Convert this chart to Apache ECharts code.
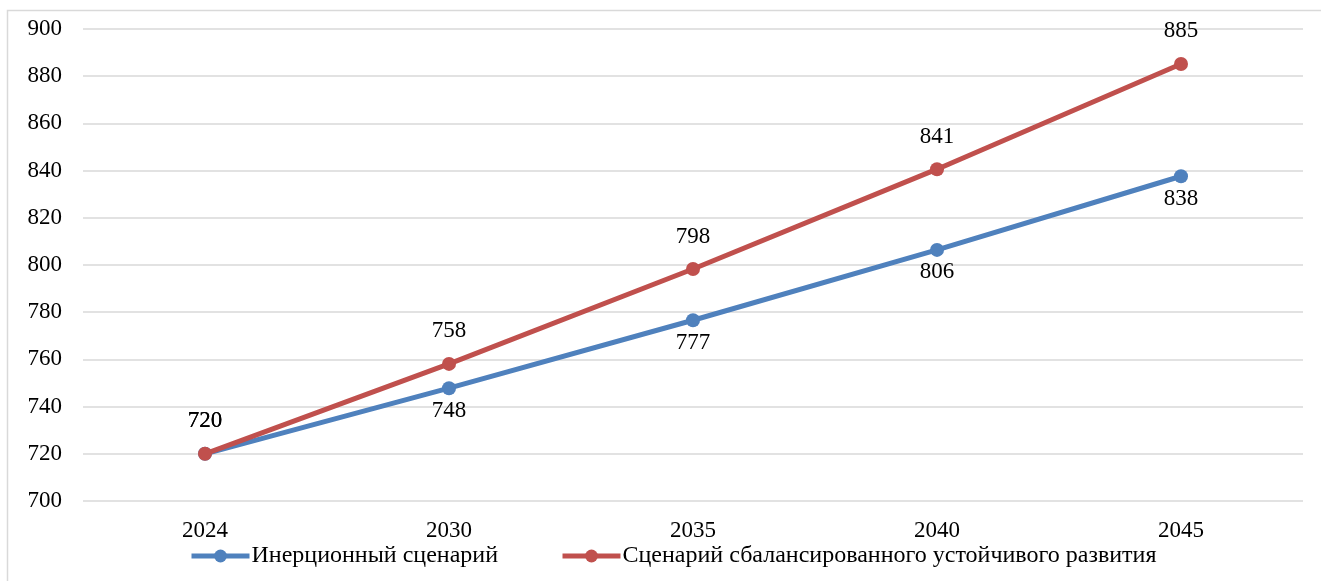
<!DOCTYPE html>
<html>
<head>
<meta charset="utf-8">
<script src="https://cdn.jsdelivr.net/npm/echarts@6/dist/echarts.min.js"></script>
<style>
html,body{margin:0;padding:0;background:#fff;}
#c{width:1321px;height:581px;}
</style>
</head>
<body>
<div id="c"></div>
<script>
const categories = ['2024', '2030', '2035', '2040', '2045'];
const inertialValues = [720, 747.8, 776.6, 806.4, 837.6];
const balancedValues = [720, 758.1, 798.3, 840.6, 885.2];
const seriesNames = ['Инерционный сценарий', 'Сценарий сбалансированного устойчивого развития'];
const yMin = 700, yMax = 900, yStep = 20;

const FONT = '"Liberation Serif", "Times New Roman", serif';
const chart = echarts.init(document.getElementById('c'));
const labelStyle = {
  show: true,
  fontFamily: FONT,
  fontSize: 23,
  color: '#000',
  formatter: p => Math.round(p.value)
};
chart.setOption({
  animation: false,
  graphic: [{
    type: 'rect',
    shape: { x: 7.5, y: 10.5, width: 1330, height: 600 },
    style: { fill: 'none', stroke: '#d9d9d9', lineWidth: 1.5 },
    silent: true
  }],
  grid: { left: 83, right: 18, top: 29, bottom: 80 },
  legend: {
    left: 184,
    top: 539,
    itemWidth: 58,
    itemHeight: 16,
    itemGap: 62,
    lineStyle: { width: 5 },
    textStyle: { fontFamily: FONT, fontSize: 24, color: '#000', padding: [0, 0, 0, -3] },
    data: seriesNames
  },
  xAxis: {
    type: 'category',
    data: categories,
    boundaryGap: true,
    axisLine: { show: false },
    axisTick: { show: false },
    axisLabel: { fontFamily: FONT, fontSize: 23, color: '#000', margin: 18 }
  },
  yAxis: {
    type: 'value',
    min: yMin,
    max: yMax,
    interval: yStep,
    axisLine: { show: false },
    axisTick: { show: false },
    axisLabel: { fontFamily: FONT, fontSize: 23, color: '#000', margin: 21 },
    splitLine: { lineStyle: { color: '#d9d9d9', width: 1.5 } }
  },
  series: [
    {
      name: seriesNames[0],
      type: 'line',
      data: inertialValues.map((v, i) => i === 0
        ? { value: v, label: { position: 'top', distance: 14 } }
        : v),
      color: '#4f81bd',
      lineStyle: { width: 5, color: '#4f81bd' },
      symbol: 'circle',
      symbolSize: 14,
      itemStyle: { color: '#4f81bd' },
      label: Object.assign({}, labelStyle, { position: 'bottom', distance: 4 }),
      z: 2
    },
    {
      name: seriesNames[1],
      type: 'line',
      data: balancedValues,
      color: '#c0504d',
      lineStyle: { width: 5, color: '#c0504d' },
      symbol: 'circle',
      symbolSize: 14,
      itemStyle: { color: '#c0504d' },
      label: Object.assign({}, labelStyle, { position: 'top', distance: 14 }),
      z: 3
    }
  ]
});
</script>
</body>
</html>
